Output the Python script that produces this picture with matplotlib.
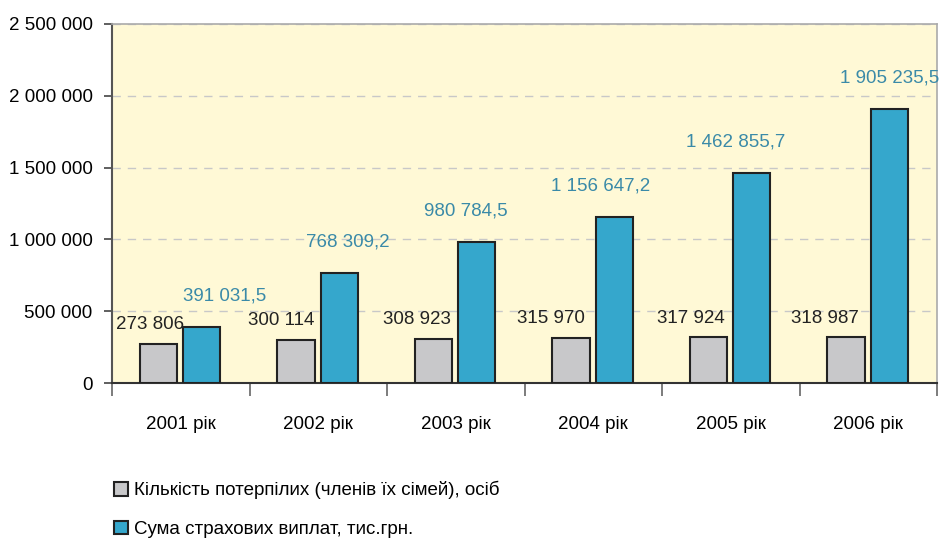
import numpy as np
import matplotlib
matplotlib.use("Agg")
import matplotlib.pyplot as plt
from matplotlib.ticker import FuncFormatter

plt.rcParams['font.family'] = ['Liberation Sans', 'DejaVu Sans']

# data
years = ["2001 рік", "2002 рік", "2003 рік", "2004 рік", "2005 рік", "2006 рік"]
victims = [273806, 300114, 308923, 315970, 317924, 318987]
payments = [391031.5, 768309.2, 980784.5, 1156647.2, 1462855.7, 1905235.5]
victims_lbl = ["273 806", "300 114", "308 923", "315 970", "317 924", "318 987"]
payments_lbl = ["391 031,5", "768 309,2", "980 784,5", "1 156 647,2", "1 462 855,7", "1 905 235,5"]

# label x shifts in pixels (labels are not centred over bars in the original)
vic_dx = [-8, -15, -17, -20, -18, -21]
pay_dx = [23, 9, -11, -14, -16, 0]

gray = "#C8C8CA"
blue = "#35A7CC"
edge = "#222222"
lbl_blue = "#3A8AA8"
fs = 13.5

fig = plt.figure(figsize=(9.41, 5.45), dpi=100)
ax = fig.add_axes([112/941, 1-383/545, (937-112)/941, (383-24)/545])
ax.set_facecolor("#FFF9D6")

x = np.arange(len(years))
w = 0.27
ax.bar(x - 0.162, victims, w, color=gray, edgecolor=edge, linewidth=1.5, zorder=3,
       label="Кількість потерпілих (членів їх сімей), осіб")
ax.bar(x + 0.152, payments, w, color=blue, edgecolor=edge, linewidth=1.5, zorder=3,
       label="Сума страхових виплат, тис.грн.")

for i in range(len(years)):
    ax.annotate(victims_lbl[i], (x[i] - 0.162, victims[i]), xytext=(vic_dx[i], 19),
                textcoords="offset pixels", ha="center", va="center",
                fontsize=fs, color="#222222", zorder=4)
    ax.annotate(payments_lbl[i], (x[i] + 0.152, payments[i]), xytext=(pay_dx[i], 31),
                textcoords="offset pixels", ha="center", va="center",
                fontsize=fs, color=lbl_blue, zorder=4)

ax.set_xlim(-0.5, 5.5)
ax.set_ylim(0, 2500000)
ax.set_yticks(np.arange(0, 2500001, 500000))
ax.yaxis.set_major_formatter(FuncFormatter(lambda v, p: f"{int(v):,}".replace(",", " ")))
ax.yaxis.grid(True, linestyle=(0, (6, 5)), color="#C8C8C8", linewidth=1, zorder=0)

ax.set_xticks(x)
ax.set_xticklabels(years)
ax.set_xticks(np.arange(-0.5, 6, 1), minor=True)
ax.tick_params(axis="x", which="major", length=0, pad=24, labelsize=fs)
ax.tick_params(axis="x", which="minor", length=9, width=1.2, color="#666666", direction="out")
ax.tick_params(axis="y", length=6, width=1.2, color="#444444", labelsize=fs, pad=8)

for s in ["top", "right"]:
    ax.spines[s].set_color("#AAAAAA")
    ax.spines[s].set_linewidth(1.2)
ax.spines["left"].set_color("#555555")
ax.spines["left"].set_linewidth(1.5)
ax.spines["bottom"].set_color("#333333")
ax.spines["bottom"].set_linewidth(1.5)

fig.legend(loc="upper left", bbox_to_anchor=(97/941, 1-464/545), frameon=False,
           fontsize=fs, handlelength=0.75, handleheight=0.75, handletextpad=0.35,
           labelspacing=1.15)

plt.savefig("out.png", dpi=100)
